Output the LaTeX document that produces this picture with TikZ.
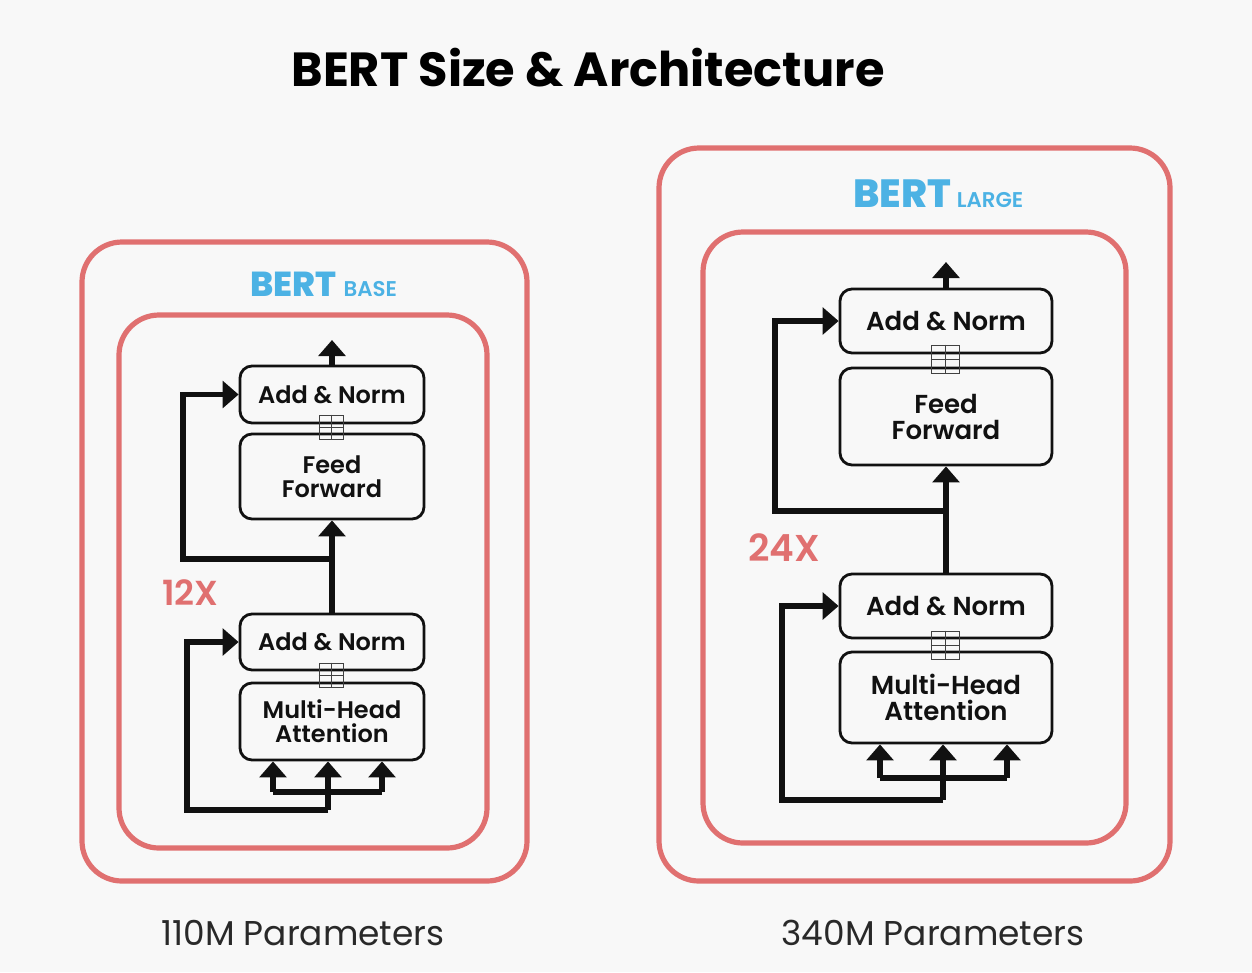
\documentclass[tikz,border=0pt]{standalone}
\usepackage{fontspec}
\setmainfont{Poppins}
\IfFontExistsTF{Poppins SemiBold}{\newfontfamily\semib{Poppins SemiBold}}{\newcommand\semib{\bfseries}}
\IfFontExistsTF{Poppins ExtraBold}{\newfontfamily\xbold{Poppins ExtraBold}}{\newcommand\xbold{\bfseries}}
\usetikzlibrary{arrows.meta}
\definecolor{bg}{RGB}{248,248,248}
\definecolor{redbox}{RGB}{224,112,112}
\definecolor{bertblue}{RGB}{76,178,228}
\definecolor{ink}{RGB}{17,17,17}
\tikzset{
  redframe/.style={draw=redbox, line width=3.9pt, rounded corners=30pt},
  blockbox/.style={draw=ink, line width=2.1pt, rounded corners=9pt, align=center, inner sep=0pt, text=ink},
  blockL/.style={blockbox, minimum width=138pt, font=\semib\fontsize{18}{18}\selectfont},
  blockR/.style={blockbox, minimum width=159pt, font=\semib\fontsize{19.5}{19.5}\selectfont},
  plusbox/.style={draw=ink!80, line width=0.7pt, minimum size=18pt, inner sep=0pt},
  wire/.style={draw=ink, line width=4.3pt, line join=miter},
  flow/.style={wire, -{Triangle[width=20pt,length=12pt]}},
  bertlbl/.style={text=bertblue, font=\xbold\fontsize{26}{26}\selectfont, anchor=base west, inner sep=0pt},
  subl/.style={text=bertblue, font=\semib\fontsize{16}{16}\selectfont, anchor=base west, inner sep=0pt},
  times/.style={text=redbox, font=\semib\fontsize{26}{26}\selectfont, anchor=base west, inner sep=0pt},
  param/.style={text=ink!90, font=\fontsize{25.8}{25.8}\selectfont, anchor=base, inner sep=0pt}
}
\begin{document}
\begin{tikzpicture}[x=0.75pt,y=-0.75pt]
\useasboundingbox (0,0) rectangle (1252,972);
\fill[bg] (0,0) rectangle (1252,972);

% title
\node[anchor=base, inner sep=0pt, text=black, font=\bfseries\fontsize{35.9}{35.9}\selectfont] (title) at (588,86) {BERT Size \& Architecture};

% ---------------- left (BASE) ----------------
\draw[redframe] (82,242) rectangle (527,881);
\draw[redframe] (119,315) rectangle (487,848);
\node[bertlbl] (bertL) at (250,296) {BERT};
\node[subl] (baseL) at ([xshift=5pt]bertL.base east) {BASE};

\node[blockL, minimum height=42.75pt] (LAN1) at (332,394.5) {Add \& Norm};
\node[blockL, minimum height=63.75pt] (LFF) at (332,476.5) {Feed\\Forward};
\node[blockL, minimum height=42pt] (LAN2) at (332,642) {Add \& Norm};
\node[blockL, minimum height=57.75pt] (LMHA) at (332,721.5) {Multi-Head\\Attention};
\node[plusbox] (pL1) at (331,427) {};
\draw[ink!80, line width=0.7pt] (pL1.north) -- (pL1.south) (pL1.west) -- (pL1.east);
\node[plusbox] (pL2) at (331,675) {};
\draw[ink!80, line width=0.7pt] (pL2.north) -- (pL2.south) (pL2.west) -- (pL2.east);

\coordinate (outL) at (332,340);
\coordinate (jL1) at (332,559);
\coordinate (cL1) at (183,559);
\coordinate (inL) at (328,810);
\coordinate (cL2) at (187,810);
\coordinate (hLl) at (273,792);
\coordinate (hLr) at (382,792);

\draw[flow] (LAN1.north) -- (outL);
\draw[flow] (LAN2.north) -- (LFF.south);
\draw[flow] (jL1) -- (cL1) |- (LAN1.west);
\draw[flow] (inL) -- (inL |- LMHA.south);
\draw[wire] (hLl) -- (hLr);
\draw[flow] (hLl) -- (hLl |- LMHA.south);
\draw[flow] (hLr) -- (hLr |- LMHA.south);
\draw[flow] (inL) -- (cL2) |- (LAN2.west);
\node[times] (xL) at (162,605) {12X};

% ---------------- right (LARGE) ----------------
\draw[redframe] (659,148) rectangle (1170,881);
\draw[redframe] (703,232) rectangle (1126,843);
\node[bertlbl, font=\xbold\fontsize{29.5}{29.5}\selectfont] (bertR) at (853,207) {BERT};
\node[subl] (largeR) at ([xshift=4pt]bertR.base east) {LARGE};

\node[blockR, minimum height=48pt] (RAN1) at (946,321) {Add \& Norm};
\node[blockR, minimum height=72.75pt] (RFF) at (946,416.5) {Feed\\Forward};
\node[blockR, minimum height=48pt] (RAN2) at (946,606) {Add \& Norm};
\node[blockR, minimum height=68.25pt] (RMHA) at (946,697.5) {Multi-Head\\Attention};
\node[plusbox, minimum size=21pt] (pR1) at (945,359) {};
\draw[ink!80, line width=0.7pt] (pR1.north) -- (pR1.south) (pR1.west) -- (pR1.east);
\node[plusbox, minimum size=21pt] (pR2) at (945,645) {};
\draw[ink!80, line width=0.7pt] (pR2.north) -- (pR2.south) (pR2.west) -- (pR2.east);

\coordinate (outR) at (946,262);
\coordinate (jR1) at (946,511);
\coordinate (cR1) at (775,511);
\coordinate (inR) at (943,800);
\coordinate (cR2) at (782,800);
\coordinate (hRl) at (880,778);
\coordinate (hRr) at (1007,778);

\draw[flow] (RAN1.north) -- (outR);
\draw[flow] (RAN2.north) -- (RFF.south);
\draw[flow] (jR1) -- (cR1) |- (RAN1.west);
\draw[flow] (inR) -- (inR |- RMHA.south);
\draw[wire] (hRl) -- (hRr);
\draw[flow] (hRl) -- (hRl |- RMHA.south);
\draw[flow] (hRr) -- (hRr |- RMHA.south);
\draw[flow] (inR) -- (cR2) |- (RAN2.west);
\node[times, font=\semib\fontsize{28}{28}\selectfont] (xR) at (748,561) {24X};

% parameters
\node[param] (pBase) at (303,945) {110M Parameters};
\node[param] (pLarge) at (933,945) {340M Parameters};
\end{tikzpicture}
\end{document}
